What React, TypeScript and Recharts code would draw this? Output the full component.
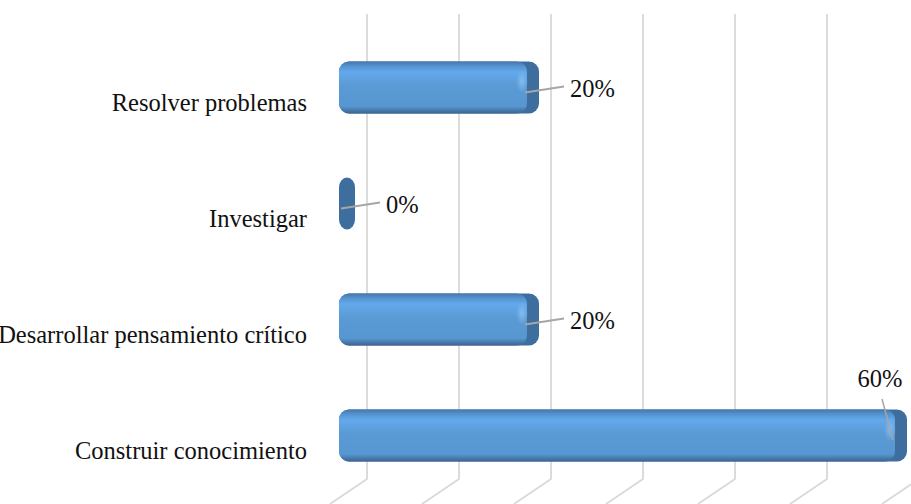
import React from 'react';
import { BarChart, Bar, XAxis, YAxis, CartesianGrid, LabelList } from 'recharts';

const categories = ['Resolver problemas', 'Investigar', 'Desarrollar pensamiento crítico', 'Construir conocimiento'];
const values = [20, 0, 20, 60];
const xTicks = [0, 10, 20, 30, 40, 50, 60, 70];

const data = categories.map((name, i) => ({ name, value: values[i] }));

const FONT = '"Liberation Serif", "Times New Roman", "DejaVu Serif", serif';
const DEPTH_X = 28;

const GridLine = (p: any) => {
  const { x1, y1, y2 } = p;
  const gx = x1 + DEPTH_X;
  return (
    <path
      key={p.key}
      d={`M${gx},${y1 - 15.5} L${gx},${y2 - 14.5} L${gx - 37},${y2 + 10.5}`}
      stroke="#d9d9d9"
      strokeWidth={1.8}
      fill="none"
    />
  );
};

const textStyle = { fontFamily: FONT, fontSize: 24.5 };

const CatTick = (p: any) => {
  const { x, y, payload } = p;
  return (
    <text x={x} y={y} dy={23.5} textAnchor="end" style={textStyle} fill="#111">
      {payload.value}
    </text>
  );
};

const CylBar = (p: any) => {
  const { x, y, width, height, index } = p;
  const cap = 15;
  const w = Math.max(0, width);
  const id = `barGrad${index}`;
  const hid = `barHi${index}`;
  const r = 10;
  return (
    <g>
      <defs>
        <linearGradient id={id} x1="0" y1="0" x2="0" y2="1">
          <stop offset="0" stopColor="#4676aa" />
          <stop offset="0.08" stopColor="#5390cb" />
          <stop offset="0.2" stopColor="#63a9eb" />
          <stop offset="0.32" stopColor="#5fa2e2" />
          <stop offset="0.45" stopColor="#5b9bd5" />
          <stop offset="0.86" stopColor="#5797d1" />
          <stop offset="0.94" stopColor="#4779ab" />
          <stop offset="1" stopColor="#3a6590" />
        </linearGradient>
        <radialGradient id={hid} cx="0.5" cy="0.5" r="0.5">
          <stop offset="0" stopColor="#8cc4f2" stopOpacity={0.8} />
          <stop offset="1" stopColor="#8cc4f2" stopOpacity={0} />
        </radialGradient>
      </defs>
      <rect x={x} y={y} width={w + cap + 1} height={height} rx={w > 0 ? r : 8} ry={w > 0 ? r : 10} fill="#3e6e9e" />
      {w > 0 && (
        <rect x={x} y={y} width={w + 4} height={height} rx={r} ry={r} fill={`url(#${id})`} />
      )}
      {w > 0 && (
        <ellipse cx={x + w - 1} cy={y + height * 0.38} rx={6} ry={height * 0.22} fill={`url(#${hid})`} />
      )}
    </g>
  );
};

const ValueLabel = (p: any) => {
  const { x, y, width, height, value } = p;
  const cy = y + height / 2;
  const end = x + width;
  if (value >= 50) {
    return (
      <g>
        <line x1={end - 9} y1={cy - 36.5} x2={end + 2} y2={cy + 4.5} stroke="#a6a6a6" strokeWidth={1.5} />
        <text x={end - 11} y={cy - 48.5} textAnchor="middle" style={textStyle} fill="#111">{`${value}%`}</text>
      </g>
    );
  }
  return (
    <g>
      <line x1={end + 2} y1={cy + 5} x2={end + 41} y2={cy - 1} stroke="#a6a6a6" strokeWidth={1.8} />
      <text x={end + 47} y={cy + 9.5} textAnchor="start" style={textStyle} fill="#111">{`${value}%`}</text>
    </g>
  );
};

export default function App() {
  return (
    <div style={{ position: 'absolute', left: 0, top: 0, width: 911, height: 504, overflow: 'hidden', background: '#fff', fontFamily: FONT }}>
      <BarChart
        width={1000}
        height={504}
        data={data}
        layout="vertical"
        margin={{ top: 29.5, right: 17, bottom: 10.5, left: 0 }}
        style={{ fontFamily: FONT }}
      >
        <CartesianGrid horizontal={false} vertical={GridLine} />
        <XAxis type="number" domain={[0, 70]} ticks={xTicks} hide />
        <YAxis
          type="category"
          dataKey="name"
          width={339}
          tick={CatTick}
          tickLine={false}
          axisLine={false}
          tickSize={0}
          tickMargin={32}
          interval={0}
        />
        <Bar dataKey="value" barSize={52} shape={CylBar} isAnimationActive={false}>
          <LabelList dataKey="value" content={ValueLabel} />
        </Bar>
      </BarChart>
    </div>
  );
}
